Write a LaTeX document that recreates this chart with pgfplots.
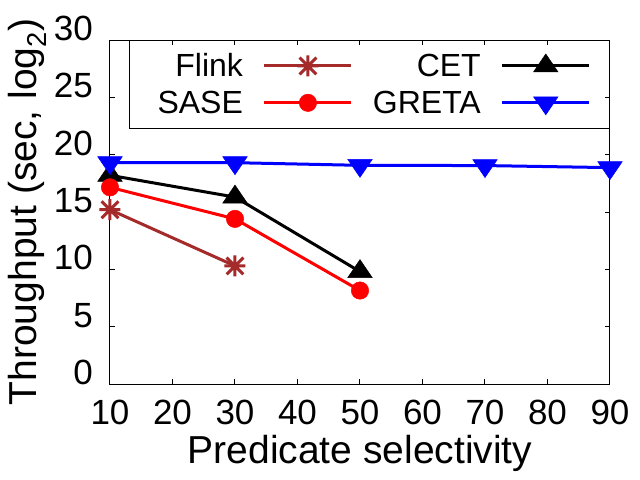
\documentclass[border=0pt]{standalone}
\usepackage{pgfplots}
\pgfplotsset{compat=1.18}
\usepackage{fontspec}
\setmainfont{Liberation Sans}
\definecolor{flinkc}{RGB}{165,42,42}
\pgfdeclareplotmark{plusx}{%
  \pgfpathmoveto{\pgfqpoint{-\pgfplotmarksize}{0pt}}%
  \pgfpathlineto{\pgfqpoint{\pgfplotmarksize}{0pt}}%
  \pgfpathmoveto{\pgfqpoint{0pt}{-\pgfplotmarksize}}%
  \pgfpathlineto{\pgfqpoint{0pt}{\pgfplotmarksize}}%
  \pgfpathmoveto{\pgfqpoint{-.8\pgfplotmarksize}{-.8\pgfplotmarksize}}%
  \pgfpathlineto{\pgfqpoint{.8\pgfplotmarksize}{.8\pgfplotmarksize}}%
  \pgfpathmoveto{\pgfqpoint{-.8\pgfplotmarksize}{.8\pgfplotmarksize}}%
  \pgfpathlineto{\pgfqpoint{.8\pgfplotmarksize}{-.8\pgfplotmarksize}}%
  \pgfusepathqstroke}
\begin{document}
\begin{tikzpicture}
\useasboundingbox (-110bp,-96bp) rectangle (530bp,384bp);
\begin{axis}[
  at={(0,0)}, anchor=south west,
  scale only axis, width=500bp, height=344bp,
  xmin=10, xmax=90, ymin=0, ymax=30,
  xtick={10,20,...,90}, ytick={0,5,...,30},
  tick align=inside, major tick length=5bp,
  axis line style={line width=1bp},
  every tick/.style={black, line width=1bp},
  axis on top, clip=false,
  /pgf/number format/assume math mode=true,
  ticklabel style={font=\fontsize{35bp}{40bp}\selectfont},
  xticklabel style={anchor=base, yshift=-40bp, inner sep=0pt},
  yticklabel style={anchor=base east, xshift=-17bp, yshift=-0.5bp, inner sep=0pt},
  xlabel={Predicate selectivity},
  ylabel={Throughput (sec, log\textsubscript{2})},
  label style={font=\fontsize{39bp}{44bp}\selectfont, inner sep=0pt},
  xlabel style={at={(axis description cs:0.5,-0.2297)}, anchor=base},
  ylabel style={at={(axis description cs:-0.148,0.5)}, anchor=base, rotate=0},
  legend columns=2, legend plot pos=right, legend cell align=right,
  legend style={at={(axis description cs:0.962,0.961)}, anchor=north east,
    draw=none, fill=none, inner sep=0pt,
    font=\fontsize{32bp}{36bp}\selectfont,
    row sep=12.6bp, column sep=20bp, nodes={inner sep=0pt}},
  legend image code/.code={%
    \draw[mark repeat=2,mark phase=2,#1] plot coordinates {(0bp,0bp) (43.5bp,0bp) (87bp,0bp)};},
]
\addplot[color=flinkc, line width=3bp, mark=plusx, mark size=10.5bp,
  mark options={solid, line width=3bp}]
  coordinates {(10,15.2) (30,10.3)};
\addlegendentry{Flink}
\addplot[color=black, line width=3bp, mark=triangle*, mark size=12bp,
  mark options={solid, line width=0.5bp, xscale=1.18}]
  coordinates {(10,18.2) (30,16.3) (50,9.8)};
\addlegendentry{CET}
\addplot[color=red, line width=3bp, mark=*, mark size=8.7bp,
  mark options={solid, line width=0.5bp}]
  coordinates {(10,17.15) (30,14.4) (50,8.15)};
\addlegendentry{SASE}
\addplot[color=blue, line width=3bp, mark=triangle*, mark size=12bp,
  mark options={solid, line width=0.5bp, xscale=1.18, rotate=180}]
  coordinates {(10,19.3) (30,19.3) (50,19.07) (70,19.05) (90,18.87)};
\addlegendentry{GRETA}
\draw[line width=1bp] (axis description cs:0.04,0.744) rectangle (axis description cs:1,1);
\end{axis}
\end{tikzpicture}
\end{document}
